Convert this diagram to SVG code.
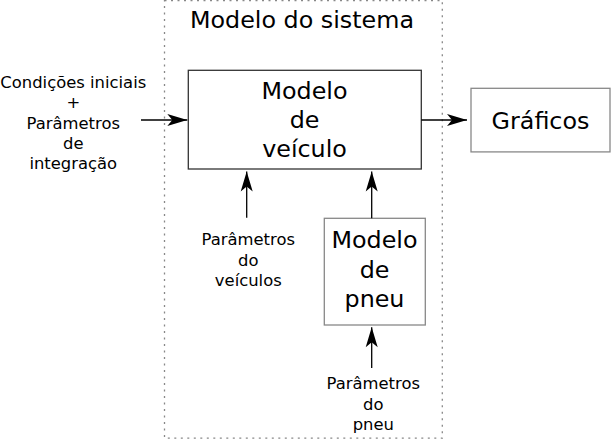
<svg xmlns="http://www.w3.org/2000/svg" width="611" height="441" viewBox="0 0 611 441">
<style>
text{font-family:"DejaVu Sans","Liberation Sans",sans-serif;fill:#000;text-anchor:middle}
.big{font-size:23.8px}
.small{font-size:16.4px}
.conn{stroke:#000;stroke-width:1.3;fill:none;marker-end:url(#ah)}
</style>
<defs>
<marker id="ah" markerUnits="userSpaceOnUse" markerWidth="22" markerHeight="14" refX="20" refY="6" orient="auto" overflow="visible">
<path d="M0,0 L20,6 L0,12 L5,6 Z" fill="#000"/>
</marker>
</defs>
<g id="sistema">
<rect x="164.5" y="0.5" width="277.8" height="437.7" fill="none" stroke="#888" stroke-width="1.3" stroke-dasharray="2,4.5"/>
<text class="big" x="302" y="28.3">Modelo do sistema</text>
</g>
<g id="veiculo">
<rect x="188.3" y="70.3" width="233" height="98.7" fill="#fff" stroke="#333" stroke-width="1.3"/>
<text class="big" x="304.5" y="99">Modelo</text>
<text class="big" x="304.5" y="128.3">de</text>
<text class="big" x="304.5" y="157">veículo</text>
</g>
<g id="graficos">
<rect x="471" y="88.3" width="139" height="63.6" fill="#fff" stroke="#888" stroke-width="1.3"/>
<text class="big" x="540.5" y="129.3">Gráficos</text>
</g>
<g id="pneu">
<rect x="324.3" y="218.3" width="101" height="106.7" fill="#fff" stroke="#888" stroke-width="1.3"/>
<text class="big" x="374.5" y="248.3">Modelo</text>
<text class="big" x="374.5" y="278">de</text>
<text class="big" x="374.5" y="306.5">pneu</text>
</g>
<g id="entrada">
<text class="small" x="73.3" y="87.5">Condições iniciais</text>
<text class="small" x="73.3" y="108">+</text>
<text class="small" x="73.3" y="128.5">Parâmetros</text>
<text class="small" x="73.3" y="149">de</text>
<text class="small" x="73.3" y="169">integração</text>
</g>
<g id="param-veiculos">
<text class="small" x="248.3" y="245">Parâmetros</text>
<text class="small" x="248.3" y="265.5">do</text>
<text class="small" x="248.3" y="286">veículos</text>
</g>
<g id="param-pneu">
<text class="small" x="373.3" y="388.5">Parâmetros</text>
<text class="small" x="373.3" y="409.5">do</text>
<text class="small" x="373.3" y="430">pneu</text>
</g>
<g id="connectors">
<line class="conn" x1="141" y1="120" x2="187.3" y2="120"/>
<line class="conn" x1="421.3" y1="120" x2="467" y2="120"/>
<line class="conn" x1="246.7" y1="217.7" x2="246.7" y2="171.5"/>
<line class="conn" x1="371.7" y1="218.3" x2="371.7" y2="171.5"/>
<line class="conn" x1="371.7" y1="368" x2="371.7" y2="327.3"/>
</g>
</svg>
